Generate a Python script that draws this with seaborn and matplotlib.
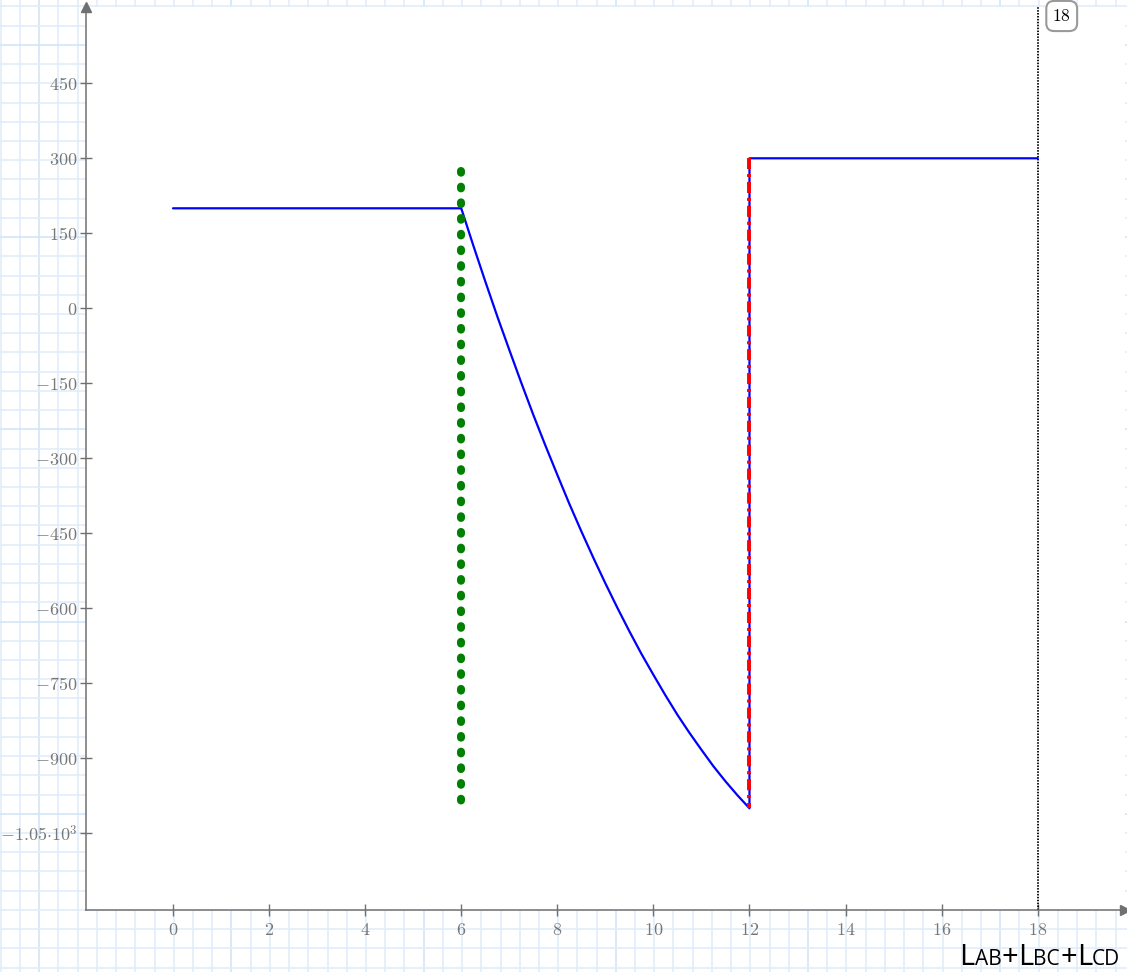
import numpy as np
import matplotlib
matplotlib.use("Agg")
import matplotlib.pyplot as plt
import seaborn as sns
from matplotlib.offsetbox import TextArea, HPacker, AnchoredOffsetbox

# shear along the beam
x_pos = [0, 6, 6.25, 6.5, 6.75, 7, 7.25, 7.5, 7.75, 8, 8.25, 8.5, 8.75, 9, 9.25, 9.5,
         9.75, 10, 10.25, 10.5, 10.75, 11, 11.25, 11.5, 11.75, 12, 12, 18]
shear = [200, 200, 126, 54, -16, -83, -149, -213, -274, -333, -391, -446, -499, -550,
         -599, -646, -691, -733, -774, -813, -849, -883, -916, -946, -974, -1000, 300, 300]

# the two marker lines
green_x = [6, 6]
green_y = [274, -986]
red_x = [12, 12]
red_y = [300, -1000]

# end of the beam (dotted line + "18" tag)
end_x = 18
end_label = "18"

x_ticks = [0, 2, 4, 6, 8, 10, 12, 14, 16, 18]
y_ticks = [450, 300, 150, 0, -150, -300, -450, -600, -750, -900, -1050]
y_tick_labels = ["450", "300", "150", "0", "-150", "-300", "-450", "-600",
                 "-750", "-900", r"-1.05{\cdot}10^{3}"]

W, H = 1127, 972
sns.set_theme(style="white")
plt.rcParams["mathtext.fontset"] = "cm"
plt.rcParams["lines.scale_dashes"] = False

fig = plt.figure(figsize=(W / 100, H / 100), dpi=100)

# graph paper behind everything
bg = fig.add_axes([0, 0, 1, 1])
bg.set_xlim(0, W)
bg.set_ylim(H, 0)
bg.axis("off")
for k, gx in enumerate(np.arange(0.8, W, 19.22)):
    bg.axvline(gx, color="#d3e5f9" if k % 10 == 2 else "#e1edfb", lw=1.2)
for k, gy in enumerate(np.arange(6.5, H, 19.22)):
    bg.axhline(gy, color="#d3e5f9" if k % 10 == 2 else "#e1edfb", lw=1.2)
bg.set_zorder(0)

ax = fig.add_axes([86 / W, (H - 910) / H, (1125 - 86) / W, (910 - 7) / H])
ax.set_zorder(1)
ax.set_facecolor("white")

sns.lineplot(x=x_pos, y=shear, sort=False, estimator=None, color="#0000ff", lw=1.6, ax=ax)

sns.lineplot(x=green_x, y=green_y, sort=False, estimator=None, color="#008000", lw=5.8, ax=ax)
g = ax.lines[-1]
g.set_dashes([1.2, 10.1])
g.set_dash_capstyle("round")

sns.lineplot(x=red_x, y=red_y, sort=False, estimator=None, color="#ff0000", lw=2.8, ax=ax)
r = ax.lines[-1]
r.set_dashes([8, 3.5, 2.2, 3.5])

ax.axvline(end_x, color="black", lw=1.3, dashes=[1.1, 1.0])

ax.set_xlim(-1.811, 19.817)
ax.set_ylim(-1203.4, 602.6)

ax.set_xticks(x_ticks)
ax.set_xticklabels([f"${t}$" for t in x_ticks])
ax.set_yticks(y_ticks)
ax.set_yticklabels([f"${t}$" for t in y_tick_labels])
ax.tick_params(axis="both", direction="inout", length=8, width=1, color="#707070",
               labelcolor="#777777", labelsize=13)
ax.tick_params(axis="x", pad=4, bottom=True)
ax.tick_params(axis="y", pad=2, left=True)

for side in ["top", "right"]:
    ax.spines[side].set_visible(False)
for side in ["left", "bottom"]:
    ax.spines[side].set_color("#707070")
    ax.spines[side].set_linewidth(1.1)

# axis arrowheads
ax.plot(1, 0, marker=">", color="#707070", markersize=7, transform=ax.transAxes, clip_on=False)
ax.plot(0, 1, marker="^", color="#707070", markersize=7, transform=ax.transAxes, clip_on=False)

ax.annotate(f"${end_label}$", xy=(end_x, 1), xycoords=("data", "axes fraction"),
            xytext=(24, -9), textcoords="offset pixels", ha="center", va="center",
            fontsize=12.5, color="black",
            bbox=dict(boxstyle="round,pad=0.35,rounding_size=0.45", fc="white",
                      ec="#9a9a9a", lw=1.5))

# x label: L_AB + L_BC + L_CD with small subscripts on the baseline
parts = [("L", 21), ("AB", 15), ("+", 21), ("L", 21), ("BC", 15), ("+", 21), ("L", 21), ("CD", 15)]
areas = [TextArea(s, textprops=dict(fontsize=sz, color="black", family=["Open Sans", "DejaVu Sans"]))
         for s, sz in parts]
pack = HPacker(children=areas, align="baseline", pad=0, sep=0)
anch = AnchoredOffsetbox(loc="lower right", child=pack, pad=0, borderpad=0, frameon=False,
                         bbox_to_anchor=(1 - 7 / W, 0), bbox_transform=fig.transFigure)
fig.add_artist(anch)

fig.savefig("out.png", dpi=100)
